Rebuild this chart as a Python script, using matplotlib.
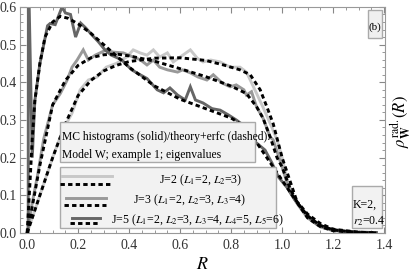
import matplotlib
matplotlib.use("Agg")
import matplotlib.pyplot as plt
from matplotlib.patches import Rectangle
from matplotlib.ticker import MultipleLocator

plt.rcParams['font.family'] = ['Liberation Serif', 'DejaVu Serif']
plt.rcParams['mathtext.fontset'] = 'stix'

# ---- data: MC histograms (solid) ----
R2 = [0.0, 0.03, 0.06, 0.1, 0.14, 0.176, 0.208, 0.24, 0.274, 0.31, 0.35, 0.39, 0.416, 0.443, 0.47, 0.495,
      0.52, 0.55, 0.573, 0.6, 0.64, 0.667, 0.69, 0.72, 0.757, 0.796, 0.835, 0.86, 0.875, 0.9, 0.925, 0.96,
      0.98, 1.0, 1.02, 1.05, 1.08, 1.12, 1.17, 1.25, 1.37]
H2 = [0.0, 0.06, 0.12, 0.2, 0.273, 0.318, 0.38, 0.406, 0.414, 0.44, 0.45, 0.467, 0.486, 0.478, 0.472, 0.486,
      0.467, 0.478, 0.454, 0.467, 0.486, 0.464, 0.454, 0.459, 0.454, 0.44, 0.44, 0.427, 0.406, 0.37, 0.334, 0.28,
      0.247, 0.2, 0.14, 0.088, 0.06, 0.03, 0.012, 0.004, 0.001]

R3 = [0.0, 0.02, 0.04, 0.065, 0.10, 0.13, 0.157, 0.176, 0.196, 0.22, 0.24, 0.267, 0.286, 0.31, 0.337, 0.377,
      0.416, 0.443, 0.47, 0.495, 0.52, 0.55, 0.59, 0.61, 0.64, 0.67, 0.705, 0.73, 0.765, 0.796, 0.82, 0.85,
      0.86, 0.88, 0.9, 0.925, 0.953, 0.965, 1.0, 1.03, 1.063, 1.1, 1.15, 1.2, 1.3, 1.37]
H3 = [0.0, 0.08, 0.15, 0.25, 0.34, 0.37, 0.406, 0.44, 0.459, 0.486, 0.459, 0.472, 0.478, 0.486, 0.48, 0.478,
      0.467, 0.46, 0.446, 0.459, 0.44, 0.433, 0.427, 0.433, 0.425, 0.414, 0.406, 0.42, 0.398, 0.388, 0.393, 0.38,
      0.366, 0.375, 0.334, 0.305, 0.255, 0.247, 0.175, 0.109, 0.074, 0.04, 0.016, 0.006, 0.001, 0.0]

R5 = [0.004, 0.005, 0.02, 0.03, 0.05, 0.08, 0.09, 0.11, 0.137, 0.15, 0.17, 0.19, 0.21, 0.23, 0.255, 0.28,
      0.305, 0.33, 0.37, 0.41, 0.443, 0.47, 0.51, 0.535, 0.56, 0.59, 0.62, 0.64, 0.66, 0.69, 0.725, 0.757,
      0.79, 0.82, 0.86, 0.894, 0.933, 0.96, 0.985, 1.02, 1.05, 1.08, 1.11, 1.14, 1.19, 1.25, 1.3, 1.37]
H5 = [0.0, 0.7, 0.2, 0.35, 0.45, 0.55, 0.556, 0.553, 0.6, 0.584, 0.58, 0.52, 0.557, 0.544, 0.525, 0.507,
      0.486, 0.472, 0.46, 0.433, 0.42, 0.41, 0.38, 0.372, 0.385, 0.366, 0.353, 0.388, 0.353, 0.345, 0.33, 0.326,
      0.313, 0.30, 0.28, 0.242, 0.22, 0.186, 0.149, 0.12, 0.088, 0.061, 0.04, 0.021, 0.01, 0.004, 0.002, 0.001]

# ---- data: theory + erfc (dashed) ----
T2R = [0, 0.05, 0.1, 0.15, 0.2, 0.25, 0.3, 0.35, 0.4, 0.5, 0.6, 0.7, 0.77, 0.835, 0.875, 0.914, 0.94,
       0.965, 1.0, 1.03, 1.06, 1.1, 1.15, 1.2, 1.3, 1.37]
T2 = [0, 0.1, 0.2, 0.29, 0.365, 0.405, 0.43, 0.445, 0.455, 0.464, 0.465, 0.458, 0.446, 0.433, 0.42, 0.38,
      0.335, 0.29, 0.2, 0.14, 0.08, 0.04, 0.017, 0.006, 0.001, 0.0]

T3R = [0, 0.02, 0.05, 0.1, 0.15, 0.2, 0.25, 0.3, 0.35, 0.4, 0.5, 0.6, 0.7, 0.8, 0.86, 0.9, 0.925, 0.953,
       0.98, 1.0, 1.03, 1.06, 1.1, 1.15, 1.2, 1.3, 1.37]
T3 = [0, 0.07, 0.18, 0.34, 0.405, 0.445, 0.465, 0.473, 0.475, 0.47, 0.456, 0.436, 0.415, 0.39, 0.37, 0.335,
      0.305, 0.255, 0.2, 0.175, 0.12, 0.08, 0.045, 0.02, 0.008, 0.001, 0.0]

T5R = [0, 0.01, 0.02, 0.03, 0.05, 0.07, 0.1, 0.13, 0.16, 0.2, 0.25, 0.3, 0.35, 0.4, 0.45, 0.5, 0.6, 0.7,
       0.8, 0.86, 0.9, 0.95, 1.0, 1.05, 1.1, 1.15, 1.2, 1.3, 1.37]
T5 = [0, 0.12, 0.25, 0.35, 0.45, 0.52, 0.56, 0.575, 0.57, 0.555, 0.53, 0.5, 0.47, 0.44, 0.415, 0.39, 0.355,
      0.33, 0.305, 0.28, 0.24, 0.19, 0.14, 0.09, 0.05, 0.025, 0.01, 0.002, 0.0]

legend_labels = [r'J=2 ($L_1$=2, $L_2$=3)',
                 r'J=3 ($L_1$=2, $L_2$=3, $L_3$=4)',
                 r'J=5 ($L_1$=2, $L_2$=3, $L_3$=4, $L_4$=5, $L_5$=6)']
colors = ['#c8c8c8', '#999999', '#666666']

fig = plt.figure(figsize=(4.15, 2.77), dpi=100)
ax = fig.add_axes([0.047, 0.159, 0.881, 0.816])
ax.set_xlim(-0.03, 1.404)
ax.set_ylim(0, 0.6)

lw = 2.1
dash = (1.5, 1.1)
for (R, H, c) in zip([R2, R3, R5], [H2, H3, H5], colors):
    ax.plot(R, H, color=c, lw=lw, solid_joinstyle='miter', zorder=2)
for (R, T) in zip([T2R, T3R, T5R], [T2, T3, T5]):
    ax.plot(R, T, color='black', lw=lw, dashes=dash, dash_capstyle='butt', zorder=3)

ax.xaxis.set_major_locator(MultipleLocator(0.2))
ax.xaxis.set_minor_locator(MultipleLocator(0.05))
ax.yaxis.set_major_locator(MultipleLocator(0.1))
ax.yaxis.set_minor_locator(MultipleLocator(0.02))
ax.tick_params(which='both', direction='in', top=True, right=True, colors='#888888',
               labelcolor='#333333', labelsize=10)
ax.tick_params(which='major', length=4, width=0.8)
ax.tick_params(which='minor', length=2, width=0.6)
ax.tick_params(axis='x', pad=4)
ax.tick_params(axis='y', pad=2)
ax.xaxis.set_major_formatter(matplotlib.ticker.FormatStrFormatter('%.1f'))
ax.yaxis.set_major_formatter(matplotlib.ticker.FormatStrFormatter('%.1f'))
for s in ax.spines.values():
    s.set_color('#999999')
    s.set_linewidth(0.8)

ax.set_xlabel(r'$R$', fontsize=13, labelpad=3)
fig.text(0.965, 0.56, r'$\rho^{\mathrm{rad.}}_{\mathbf{W}}(R)$', rotation=90, fontsize=12,
         ha='center', va='center')

tr = fig.transFigure
W, Hh = 415.0, 277.0
def fx(px):
    return px / W
def fy(py):
    return 1 - py / Hh

# box 1
fig.patches.append(Rectangle((fx(60), fy(162)), fx(255) - fx(60), fy(122) - fy(162), transform=tr,
                             facecolor='#f2f2f2', edgecolor='#aaaaaa', lw=1.0, zorder=5))
fig.text(fx(62), fy(140), 'MC histograms (solid)/theory+erfc (dashed):', fontsize=8.4, va='baseline',
         zorder=6)
fig.text(fx(62), fy(158), 'Model W; example 1; eigenvalues', fontsize=8.4, va='baseline', zorder=6)

# box 2 (legend)
fig.patches.append(Rectangle((fx(60), fy(228)), fx(276) - fx(60), fy(167) - fy(228), transform=tr,
                             facecolor='#f2f2f2', edgecolor='#aaaaaa', lw=1.0, zorder=5))
sample = [(62, 112, 176, 184), (66, 106, 198, 205), (72, 100, 218, 223)]
for i, (x0, x1, ys, yd) in enumerate(sample):
    fig.add_artist(plt.Line2D([fx(x0), fx(x1)], [fy(ys), fy(ys)], transform=tr, color=colors[i],
                              lw=lw, zorder=6))
    fig.add_artist(plt.Line2D([fx(x0 - 2), fx(x1)], [fy(yd), fy(yd)], transform=tr, color='black',
                              lw=lw, dashes=dash, dash_capstyle='butt', zorder=6))
fig.text(fx(201), fy(180), legend_labels[0], fontsize=8.6, ha='center', va='center', zorder=6)
fig.text(fx(190), fy(200), legend_labels[1], fontsize=8.6, ha='center', va='center', zorder=6)
fig.text(fx(111), fy(220), legend_labels[2], fontsize=8.6, ha='left', va='center', zorder=6)

# (b) box
fig.patches.append(Rectangle((fx(368), fy(38)), fx(382) - fx(368), fy(10) - fy(38), transform=tr,
                             facecolor='#f0f0f0', edgecolor='#aaaaaa', lw=1.0, zorder=5))
fig.text(fx(375), fy(30), '(b)', fontsize=8, ha='center', va='baseline', zorder=6)

# K box
fig.patches.append(Rectangle((fx(352), fy(228)), fx(382) - fx(352), fy(186) - fy(228), transform=tr,
                             facecolor='#f2f2f2', edgecolor='#aaaaaa', lw=1.0, zorder=5))
fig.text(fx(353), fy(208), 'K=2,', fontsize=8.6, ha='left', va='baseline', zorder=6)
fig.text(fx(353), fy(225), r'$r_2$=0.4', fontsize=8.6, ha='left', va='baseline', zorder=6)

fig.savefig('out.png', dpi=100)
